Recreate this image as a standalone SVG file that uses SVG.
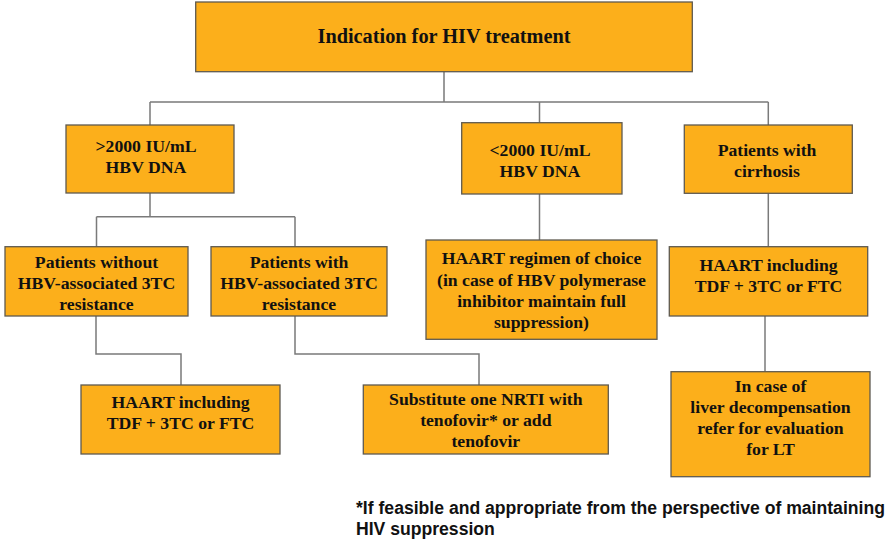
<svg xmlns="http://www.w3.org/2000/svg" width="891" height="540" viewBox="0 0 891 540">
<style>
.box{fill:#FCAF1B;stroke:#5f5a50;stroke-width:1.3}
.t{font-family:"Liberation Serif","Times New Roman",serif;font-weight:bold;font-size:17.7px;fill:#111;text-anchor:middle}
.title{font-size:20.3px}
.c{fill:none;stroke:#7a7a7a;stroke-width:1.5}
.fn{font-family:"Liberation Sans",Arial,sans-serif;font-weight:bold;font-size:17.6px;fill:#111}
</style>
<rect width="891" height="540" fill="#fff"/>
<g id="connectors">
<path class="c" d="M444 71.7V102M150 102H768.3M150 102V125M539.5 102V122.7M768.3 102V125"/>
<path class="c" d="M150 193V216.7M96.5 216.7H295M96.5 216.7V246.7M295 216.7V246.7"/>
<path class="c" d="M96 316V354H181V385"/>
<path class="c" d="M295 316V354H479V385"/>
<path class="c" d="M539.5 194V240"/>
<path class="c" d="M768.3 193.3V246.7"/>
<path class="c" d="M765 316V371.7"/>
</g>
<g id="n-root">
<rect class="box" x="195.7" y="2" width="496.6" height="69.7"/>
<text class="t title" x="444" y="42.5">Indication for HIV treatment</text>
</g>
<g id="n-gt2000">
<rect class="box" x="66" y="125" width="168" height="68"/>
<text class="t" x="146" y="151.7">&gt;2000 IU/mL</text>
<text class="t" x="146" y="172.5">HBV DNA</text>
</g>
<g id="n-lt2000">
<rect class="box" x="461.7" y="122.7" width="160.3" height="71.3"/>
<text class="t" x="540" y="155.7">&lt;2000 IU/mL</text>
<text class="t" x="540" y="176.5">HBV DNA</text>
</g>
<g id="n-cirrhosis">
<rect class="box" x="684.3" y="125" width="168" height="68.3"/>
<text class="t" x="767" y="155.7">Patients with</text>
<text class="t" x="767" y="176.5">cirrhosis</text>
</g>
<g id="n-without">
<rect class="box" x="5" y="246.7" width="183" height="69.3"/>
<text class="t" x="96.5" y="267.5">Patients without</text>
<text class="t" x="96.5" y="288.5">HBV-associated 3TC</text>
<text class="t" x="96.5" y="309.5">resistance</text>
</g>
<g id="n-with">
<rect class="box" x="211" y="246.7" width="176" height="69.3"/>
<text class="t" x="299" y="267.5">Patients with</text>
<text class="t" x="299" y="288.5">HBV-associated 3TC</text>
<text class="t" x="299" y="309.5">resistance</text>
</g>
<g id="n-regimen">
<rect class="box" x="426" y="240" width="231" height="99.3"/>
<text class="t" x="541.5" y="264">HAART regimen of choice</text>
<text class="t" x="541.5" y="285.5">(in case of HBV polymerase</text>
<text class="t" x="541.5" y="306.8">inhibitor maintain full</text>
<text class="t" x="541.5" y="328">suppression)</text>
</g>
<g id="n-haart-right">
<rect class="box" x="669.3" y="246.7" width="198.4" height="69.3"/>
<text class="t" x="768.5" y="270.5">HAART including</text>
<text class="t" x="768.5" y="291.7">TDF + 3TC or FTC</text>
</g>
<g id="n-haart-left">
<rect class="box" x="81" y="385" width="199" height="69"/>
<text class="t" x="180.5" y="408">HAART including</text>
<text class="t" x="180.5" y="429">TDF + 3TC or FTC</text>
</g>
<g id="n-substitute">
<rect class="box" x="363.3" y="385" width="245" height="69"/>
<text class="t" x="485.8" y="404.5">Substitute one NRTI with</text>
<text class="t" x="485.8" y="425.5">tenofovir* or add</text>
<text class="t" x="485.8" y="447">tenofovir</text>
</g>
<g id="n-lt">
<rect class="box" x="671" y="371.7" width="199" height="105"/>
<text class="t" x="770.5" y="391.5">In case of</text>
<text class="t" x="770.5" y="412.5">liver decompensation</text>
<text class="t" x="770.5" y="433.5">refer for evaluation</text>
<text class="t" x="770.5" y="454.5">for LT</text>
</g>
<g id="footnote">
<text class="fn" x="356" y="514">*If feasible and appropriate from the perspective of maintaining</text>
<text class="fn" x="356" y="535">HIV suppression</text>
</g>
</svg>
